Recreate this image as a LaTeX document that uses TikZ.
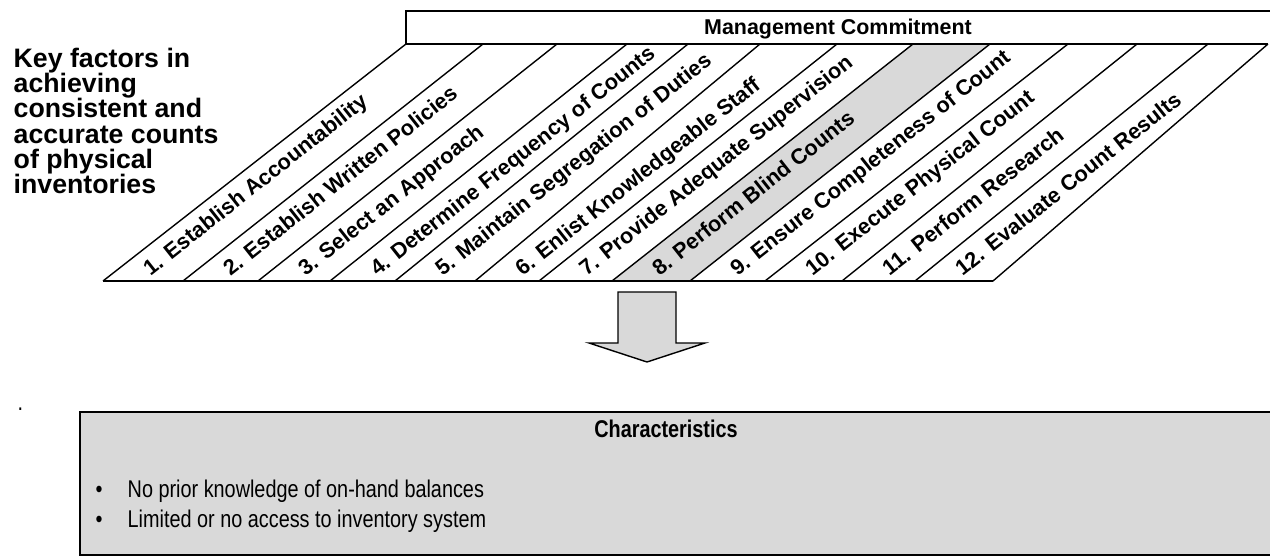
\documentclass[tikz,border=0pt]{standalone}
\usepackage{fontspec}
\setmainfont{Liberation Sans}
\newfontfamily\narrowfont[FakeStretch=0.82]{Liberation Sans}
\definecolor{boxgray}{RGB}{217,217,217}
\begin{document}
\begin{tikzpicture}[x=0.5pt,y=-0.5pt,line width=0.7pt,
  lbl/.style={font=\bfseries\fontsize{10.85}{12}\selectfont,rotate=38.3,anchor=base west,inner sep=0pt},
  title/.style={font=\bfseries\fontsize{13.35}{12.6}\selectfont,align=left,anchor=north west,inner sep=0pt},
  mctext/.style={font=\bfseries\fontsize{10.7}{12}\selectfont,anchor=base,inner sep=0pt},
  boxtext/.style={font=\narrowfont\fontsize{12.1}{14}\selectfont,anchor=base west,inner sep=0pt},
  boxhead/.style={font=\narrowfont\bfseries\fontsize{12.1}{14}\selectfont,anchor=base,inner sep=0pt},
  shape gray/.style={draw=black,fill=boxgray}]
\useasboundingbox (0,0) rectangle (1270,556);

% line end points
\foreach \b/\t [count=\i] in {103/406,183/483,258/557,330/627,395/688,475/760,539/837,612/913,690/990,765/1068,842/1137,915/1208,993/1268}{
  \coordinate (b\i) at (\b,281);
  \coordinate (t\i) at (\t,44);
}

% management commitment box
\draw (t1) -- (406,11) -- (1275,11);
\node[mctext] (mc) at (838,35) {Management Commitment};

% highlighted band 8
\fill[boxgray] (b8) -- (b9) -- (t9) -- (t8) -- cycle;

% slanted dividers
\foreach \i in {1,...,13}{ \draw (b\i) -- (t\i); }
\draw (b1) -- (b13);
\draw (t1) -- (t13);

% labels
\foreach \k/\txt in {1/{1. Establish Accountability},2/{2. Establish Written Policies},3/{3. Select an Approach},4/{4. Determine Frequency of Counts},5/{5. Maintain Segregation of Duties},6/{6. Enlist Knowledgeable Staff},7/{7. Provide Adequate Supervision},8/{8. Perform Blind Counts},9/{9. Ensure Completeness of Count},10/{10. Execute Physical Count},11/{11. Perform Research},12/{12. Evaluate Count Results}}{
  \node[lbl] (L\k) at ([shift={(47,-4)}]b\k) {\txt};
}

% title
\node[title] (ttl) at (13,47.5) {Key factors in\\achieving\\consistent and\\accurate counts\\of physical\\inventories};

% block arrow
\draw[shape gray] (618,292) -- (676,292) -- (676,343) -- (705,343) -- (647,362) -- (589,343) -- (618,343) -- cycle;

% stray dot
\node[boxtext] (dot) at (17,410) {.};

% characteristics box
\draw[shape gray] (80,412) rectangle (1275,555);
\node[boxhead] (ch) at (666,437) {Characteristics};
\node[boxtext] (c1) at (95,497) {\makebox[16pt][l]{\textbullet}No prior knowledge of on-hand balances};
\node[boxtext] (c2) at (95,527) {\makebox[16pt][l]{\textbullet}Limited or no access to inventory system};
\end{tikzpicture}
\end{document}
